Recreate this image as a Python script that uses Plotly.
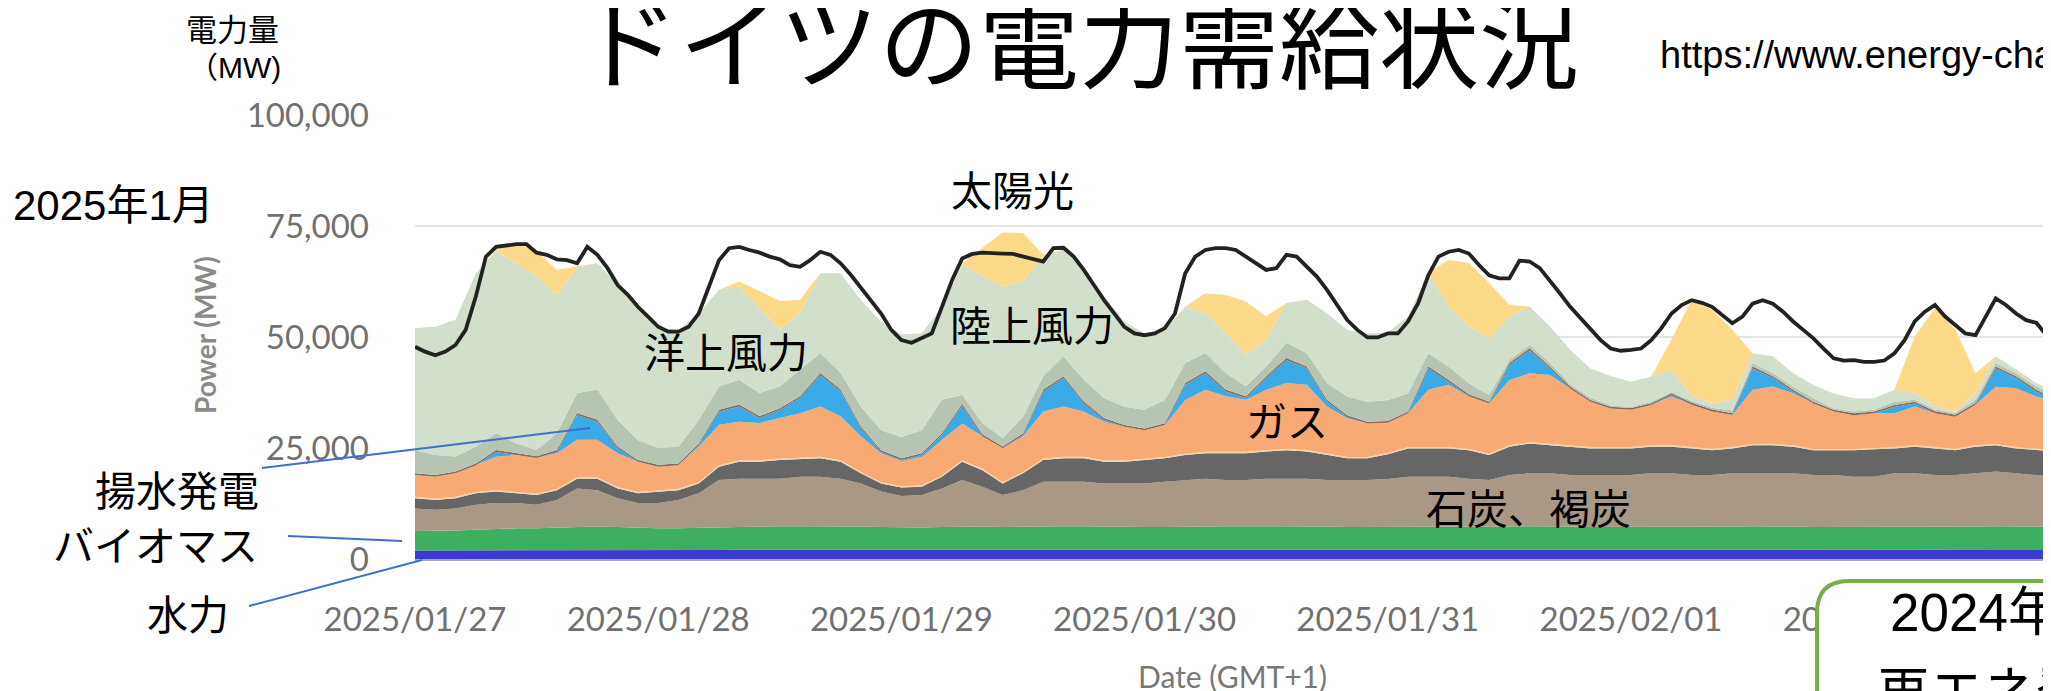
import plotly.graph_objects as go
import pandas as pd

# ---------------- data (MW), 2-hourly from 2025-01-27 00:00 ----------------
start = "2025-01-27 00:00"

hydro = [1900,1900,1900,1950,2000,2000,2000,2000,2050,2050,2000,2000,
         2000,2000,2000,2050,2100,2100,2100,2100,2100,2100,2050,2050,
         2000,2000,2050,2100,2100,2100,2100,2100,2100,2100,2050,2050,
         2050,2050,2100,2100,2100,2100,2100,2100,2100,2100,2050,2050,
         2050,2050,2100,2100,2100,2100,2100,2100,2100,2100,2050,2050,
         2050,2050,2050,2100,2100,2100,2100,2100,2100,2050,2050,2050,
         2050,2050,2100,2100,2100,2100,2100,2100,2100,2050]

biomass = [4400,4400,4500,4650,4800,4900,4900,5000,5150,5250,5200,5000,
           4900,4900,5000,5150,5200,5200,5300,5300,5300,5300,5250,5150,
           5100,5100,5150,5200,5200,5100,5200,5300,5300,5300,5250,5150,
           5150,5150,5200,5300,5300,5300,5300,5300,5300,5200,5150,5150,
           5150,5150,5200,5200,5200,5100,5200,5300,5300,5200,5150,5150,
           5150,5150,5250,5200,5200,5200,5300,5300,5200,5150,5150,5150,
           5150,5150,5200,5200,5200,5200,5300,5300,5200,5250]

lignite = [5100,4800,5000,5600,5800,5700,5300,6300,8700,8200,6500,5600,
           5700,6400,7800,10600,10800,10800,10700,11100,11100,10700,9700,8000,
           7100,7300,8700,10500,9000,7200,8200,10000,10000,10000,9700,9800,
           9800,10200,10500,10700,10400,10400,10700,10700,10700,10500,10600,10600,
           10800,11300,11200,11200,10800,10600,11600,11900,11900,11600,11700,11700,
           11700,12100,12000,11600,11600,12000,11900,11900,12000,11700,11700,11300,
           11300,12100,12000,11600,11600,12000,12300,11900,11600,11600]

hard_coal = [2300,2200,2300,2600,2600,2200,2200,2200,2200,2600,2200,2200,
             2600,2200,2200,3000,3800,3800,4200,4000,4200,3800,2300,1800,
             1900,1900,2600,4100,3700,2600,3800,4900,5300,5300,4900,4900,
             5300,5300,5600,5700,6000,6000,6100,6400,6100,5600,4900,4900,
             5600,6400,6400,6400,6400,5600,6400,6700,6300,6400,6000,6000,
             6000,6000,6000,6000,5600,5600,6300,6300,6000,5600,5600,6000,
             6200,5600,6000,6000,5600,6000,5900,5600,5600,5300]

oil = [300,300,300,300,320,320,320,320,340,340,320,300,
       300,300,300,320,340,340,340,340,340,340,320,300,
       300,300,320,340,340,320,320,340,340,340,320,300,
       300,300,320,340,340,340,340,340,340,320,300,300,
       300,300,320,340,340,320,320,340,340,320,300,300,
       300,300,320,340,340,320,320,340,320,300,300,300,
       300,300,320,340,340,320,320,340,320,300]

gas = [4900,4900,5300,6000,7500,8300,8000,8000,8400,8400,7600,6800,
       5300,5300,8000,9100,8700,8400,9100,10000,11300,9900,8000,6500,
       5700,6400,8000,8300,7300,7600,8000,10600,11300,10200,8700,7600,
       6400,7200,12100,14000,12500,11700,13600,14800,14700,10600,8700,7500,
       6800,7600,12900,14000,11800,11300,14700,15500,15500,12800,10200,8700,
       8400,9100,11000,9500,8400,7200,12200,12900,11700,10200,8400,7600,
       7800,7600,8700,7600,7200,9100,12900,13200,11800,10900]

pumped = [0,0,0,0,1100,0,0,300,5600,4100,1100,0,
          0,0,300,3000,3400,1100,1800,3400,7100,5600,1800,300,
          200,400,1100,4000,0,0,300,4500,6400,1800,400,0,
          0,0,3400,3700,1100,400,2600,5200,3700,1100,300,0,
          0,0,4800,700,0,0,3400,5200,1500,0,0,0,
          0,0,300,0,0,0,4800,1900,400,0,0,0,
          0,1500,700,0,0,0,4100,2300,1100,0]

others = [400,400,400,400,420,420,420,420,440,440,420,400,
          400,400,400,420,440,440,440,440,440,440,420,400,
          400,400,420,440,440,420,420,440,440,440,420,400,
          400,400,420,440,440,440,440,440,440,420,400,400,
          400,400,420,440,440,420,420,440,440,420,400,400,
          400,400,420,440,440,420,420,440,420,400,400,400,
          400,400,420,440,440,420,420,440,420,400]

wind_offshore = [5200,4500,3400,3800,3800,2200,1400,3800,4500,6800,6000,4500,
                 3800,3800,5300,5200,5600,5200,4900,6000,4500,3700,4500,4500,
                 4800,5200,7500,2000,2500,1900,3700,3000,4500,4900,4500,4100,
                 4200,5200,4500,4100,3700,2200,2200,3400,3000,3800,4200,4500,
                 4700,4100,3000,3000,2500,1500,700,800,800,500,500,300,
                 300,300,300,400,400,600,800,700,700,800,300,400,
                 400,700,400,400,400,700,800,700,700,800]

wind_onshore = [27500,28900,30800,39000,40900,40600,39100,31200,28200,28500,30400,29700,
                27100,26300,24000,21800,21000,19200,12800,12700,18000,22500,24000,24500,
                23100,21800,21000,29300,33100,34100,30500,27000,24000,24800,22900,19200,
                17200,15800,12700,9000,9000,7100,6000,9000,12000,15700,15000,15400,
                15200,17300,18000,13500,12800,12800,9800,8600,8200,7800,6600,6600,
                5600,5700,5000,1100,1000,2400,2200,3800,3000,3000,3400,3000,
                2600,2700,1500,700,200,1500,1500,800,800,700]

solar = [0,0,0,0,400,4500,5600,5600,300,0,0,0,
         0,0,0,0,1100,3800,6400,3000,0,0,0,0,
         0,0,0,300,6400,12200,10900,300,0,0,0,0,
         0,0,0,4500,8600,12000,5300,0,0,0,0,0,
         0,0,200,10500,14300,12400,2600,0,0,0,0,0,
         0,0,6800,21800,21000,15800,0,0,0,0,0,0,
         0,0,12800,22100,18600,4500,0,0,0,0]

# load, hourly
load = [47800,46700,45900,46700,48200,51600,59100,68100,70300,70700,70900,70900,69000,68500,67500,67300,66600,70300,68500,65500,61700,59500,56800,54600,
        52300,51200,51200,52300,55300,61300,67300,70000,70300,69600,69000,68100,67500,66200,65800,67300,69200,68500,66600,64000,61000,58300,55300,51600,
        49300,48700,49700,50800,56800,62800,67700,68700,69000,69000,68800,68700,68100,67500,67000,70000,70100,68100,65100,61700,58300,55300,52300,50800,
        50400,50800,52000,55300,64300,68100,69600,70000,70000,69600,68100,66600,65100,65500,68500,68100,65800,63600,60600,57200,53800,51600,49900,49900,
        50800,50800,53500,57600,63900,68100,69200,69600,68800,66200,63900,63200,63200,67200,67000,65500,62800,59800,56800,54200,51600,49300,47400,46900,
        47100,47400,49300,52000,55300,57200,58300,57700,56800,55000,53100,54600,57500,58300,57500,55700,53500,51600,49700,47400,45200,44700,44800,44400,
        44400,44700,46300,49300,53500,55700,57200,54600,52700,50800,50400,54600,58700,57200,55300,53800,53200,50400,49300]

t2 = pd.date_range(start, periods=len(hydro), freq="2h")
t1 = pd.date_range(start, periods=len(load), freq="1h")

y_ticks = [0, 25000, 50000, 75000, 100000]
y_ticktext = ["0", "25,000", "50,000", "75,000", "100,000"]

layers = [
    ("水力", hydro, "#3b3bd0"),
    ("バイオマス", biomass, "#3daf5f"),
    ("褐炭", lignite, "#aa9886"),
    ("石炭", hard_coal, "#666666"),
    ("石油", oil, "#f4d2a6"),
    ("ガス", gas, "#f7aa74"),
    ("揚水発電", pumped, "#3aabe6"),
    ("その他", others, "#8a6c5c"),
    ("洋上風力", wind_offshore, "#b6c5b1"),
    ("陸上風力", wind_onshore, "#d1dfcb"),
    ("太陽光", solar, "#fdd98a"),
]

# ---------------- figure ----------------
W, H = 2051, 691
OFF = 8                      # page body margin
PL, PR, PT, PB = 415, 2051, 115, 559   # plot area in window pixels


def xp(px):
    return (px - PL) / (PR - PL)


def yp(py):
    return (PB - py) / (PB - PT)


fig = go.Figure()
for name, vals, color in layers:
    fig.add_trace(go.Scatter(
        x=t2, y=vals, name=name, mode="lines", stackgroup="gen",
        line=dict(width=0, color=color), fillcolor=color, hoverinfo="skip"))

fig.add_trace(go.Scatter(x=t1, y=load, name="Load", mode="lines",
                         line=dict(color="#222222", width=3.8)))

tickfont = dict(family="Lato, Open Sans, sans-serif", size=33, color="#707070")

fig.update_layout(
    width=W, height=H,
    margin=dict(l=PL - OFF, r=W - (PR - OFF), t=PT - OFF, b=H - (PB - OFF)),
    paper_bgcolor="white", plot_bgcolor="white",
    showlegend=False,
    xaxis=dict(type="date", range=["2025-01-27 00:00", "2025-02-02 17:27"],
               tickformat="%Y/%m/%d", dtick=86400000, tick0="2025-01-27",
               showgrid=False, showline=True, linecolor="#a8a8a8", linewidth=2,
               ticks="", tickfont=tickfont, ticklabelstandoff=30),
    yaxis=dict(range=[0, 100000], tickvals=y_ticks, ticktext=y_ticktext,
               showgrid=True, gridcolor="#e4e4e4", gridwidth=2, zeroline=False,
               ticks="", tickfont=tickfont, ticklabelstandoff=45),
)

cjk = "Noto Sans CJK JP, sans-serif"
arial = "Liberation Sans, Noto Sans CJK JP, sans-serif"


def ann(text, x, y, size, family=cjk, color="black", xanchor="center", **kw):
    fig.add_annotation(text=text, x=xp(x), y=yp(y), xref="paper", yref="paper",
                       showarrow=False, xanchor=xanchor, yanchor="middle",
                       font=dict(family=family, size=size, color=color), **kw)


# title and header texts
ann("ドイツの電力需給状況", 1079, 37, 100)
ann("https://www.energy-charts.info", 1658, 55, 38, family=arial, xanchor="left")
ann("電力量", 232, 28, 31)
ann("（MW)", 234, 67, 30, family=arial)
ann("2025年1月", 11, 205, 42, family=arial, xanchor="left")

# axis titles
ann("<b>Power (MW)</b>", 205, 335, 28, family="Lato, sans-serif", color="#8a8a8a", textangle=-90)
ann("Date (GMT+1)", 1232, 676, 30, family="Lato, sans-serif", color="#777777")

# in-chart labels
ann("太陽光", 1012, 188, 41)
ann("陸上風力", 1032, 323, 41)
ann("洋上風力", 726, 350, 41)
ann("ガス", 1287, 419, 41)
ann("石炭、褐炭", 1528, 506, 41)
ann("揚水発電", 177, 488, 41)
ann("バイオマス", 155, 543, 41)
ann("水力", 188, 612, 41)

# leader lines
for (x0, y0, x1, y1) in [(262, 468, 590, 428), (288, 536, 402, 541), (249, 606, 422, 560)]:
    fig.add_shape(type="line", xref="paper", yref="paper",
                  x0=xp(x0), y0=yp(y0), x1=xp(x1), y1=yp(y1),
                  line=dict(color="#3f6fd1", width=2), layer="above")

# rounded box bottom-right
path = (f"M {xp(1817)},{yp(720)} L {xp(1817)},{yp(613)} "
        f"Q {xp(1817)},{yp(581)} {xp(1849)},{yp(581)} "
        f"L {xp(2080)},{yp(581)} L {xp(2080)},{yp(720)} Z")
fig.add_shape(type="path", path=path, xref="paper", yref="paper",
              fillcolor="white", line=dict(color="#77b047", width=4), layer="above")
ann("2024年", 1888, 612, 53, family=arial, xanchor="left")
ann("再エネ発電", 1875, 688, 53, xanchor="left")

fig.write_html("out.html")
